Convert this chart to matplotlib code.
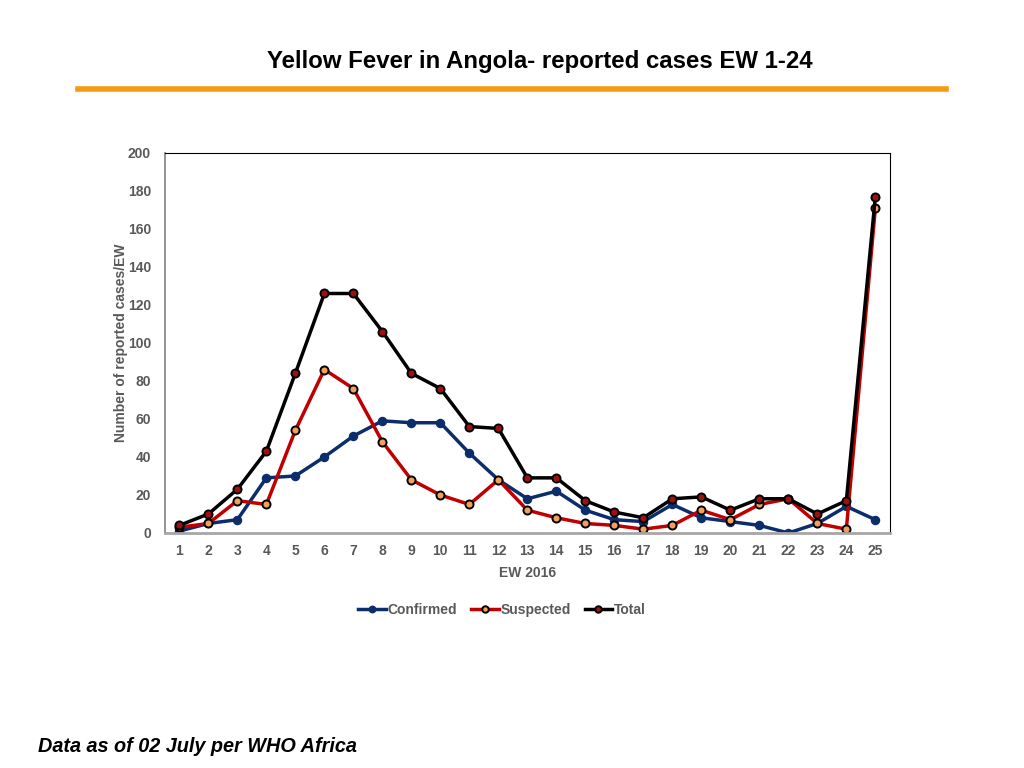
import matplotlib.pyplot as plt
from matplotlib.lines import Line2D

plt.rcParams['font.family'] = ['Liberation Sans', 'DejaVu Sans']

weeks = list(range(1, 26))
confirmed = [1, 5, 7, 29, 30, 40, 51, 59, 58, 58, 42, 28, 18, 22, 12, 7, 6, 15, 8, 6, 4, 0, 5, 14, 7]
suspected = [3, 5, 17, 15, 54, 86, 76, 48, 28, 20, 15, 28, 12, 8, 5, 4, 2, 4, 12, 7, 15, 18, 5, 2, 171]
total = [4, 10, 23, 43, 84, 126, 126, 106, 84, 76, 56, 55, 29, 29, 17, 11, 8, 18, 19, 12, 18, 18, 10, 17, 177]

gray = '#595959'

fig = plt.figure(figsize=(10.24, 7.68), dpi=100)
ax = fig.add_axes([0.161, 0.306, 0.708, 0.495])

# series, back to front
ax.plot(weeks, confirmed, color='#0B2D6B', lw=2.5, marker='o', ms=5.8,
        mfc='#0B2D6B', mec='#0B2D6B', label='Confirmed')
ax.plot(weeks, suspected, color='#C00000', lw=2.5, marker='o', ms=5.8,
        mfc='#F2A05A', mec='black', mew=1.4, label='Suspected')
ax.plot(weeks, total, color='black', lw=2.5, marker='o', ms=5.8,
        mfc='#A01010', mec='black', mew=1.4, label='Total')

ax.set_xlim(0.5, 25.5)
ax.set_ylim(0, 200)
ax.set_xticks(weeks)
ax.set_yticks(range(0, 201, 20))
ax.tick_params(axis='y', length=0, labelsize=10, labelcolor=gray, pad=10)
ax.tick_params(axis='x', length=0, labelsize=10, labelcolor=gray, pad=8)
for lab in ax.get_xticklabels() + ax.get_yticklabels():
    lab.set_fontweight('bold')

ax.spines['left'].set_color('#7f7f7f')
ax.spines['left'].set_linewidth(1.2)
ax.spines['bottom'].set_color('#a6a6a6')
ax.spines['bottom'].set_linewidth(2)
ax.spines['top'].set_color('black')
ax.spines['right'].set_color('black')

ax.set_xlabel('EW 2016', fontsize=10, fontweight='bold', color=gray, labelpad=6)
ax.set_ylabel('Number of reported cases/EW', fontsize=10, fontweight='bold',
              color=gray, labelpad=0)

leg = ax.legend(loc='upper center', bbox_to_anchor=(0.465, -0.15), ncol=3,
                frameon=False, fontsize=10, handlelength=2.0, handletextpad=0.1,
                columnspacing=1.0, markerscale=0.8)
for t in leg.get_texts():
    t.set_color(gray)
    t.set_fontweight('bold')

fig.text(0.527, 0.92, 'Yellow Fever in Angola- reported cases EW 1-24',
         ha='center', va='center', fontsize=17.3, fontweight='bold')
fig.add_artist(Line2D([78 / 1024, 946 / 1024], [1 - 89 / 768, 1 - 89 / 768],
                      color='#F79A13', lw=4))
fig.text(38 / 1024, 1 - 746 / 768, 'Data as of 02 July per WHO Africa',
         ha='left', va='center', fontsize=14.3, fontweight='bold', style='italic')

fig.savefig('out.png', dpi=100)
